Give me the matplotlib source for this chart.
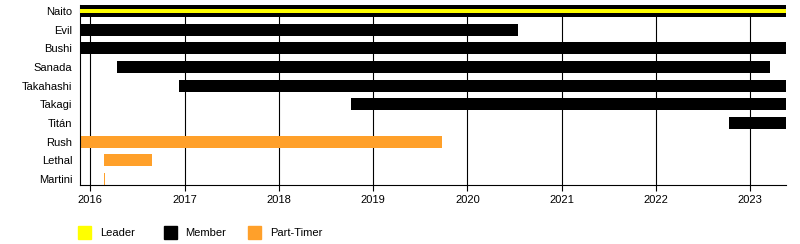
import matplotlib
matplotlib.use('Agg')
from matplotlib import pyplot as plt
from matplotlib.patches import Rectangle

plt.rcParams['font.family'] = ['Liberation Sans', 'DejaVu Sans']
plt.rcParams['font.size'] = 8

# wrestlers, top to bottom
names = ['Naito', 'Evil', 'Bushi', 'Sanada', 'Takahashi', 'Takagi', 'Titán', 'Rush', 'Lethal', 'Martini']
starts = [2015.89, 2015.89, 2015.89, 2016.28, 2016.94, 2018.77, 2022.77, 2015.89, 2016.14, 2016.14]
ends = [2023.38, 2020.54, 2023.38, 2023.21, 2023.38, 2023.38, 2023.38, 2019.73, 2016.65, 2016.155]
roles = ['Member', 'Member', 'Member', 'Member', 'Member', 'Member', 'Member',
         'Part-Timer', 'Part-Timer', 'Part-Timer']
# leader stint(s): (row, start, end)
leader = [(0, 2015.89, 2023.38)]
years = list(range(2016, 2024))

colors = {'Leader': '#ffff00', 'Member': '#000000', 'Part-Timer': '#ffa02a'}

fig = plt.figure(figsize=(8, 2.44), dpi=100)
ax = fig.add_axes([0.1, 0.2418, 0.8825, 0.738])

for y in years:
    ax.axvline(y, color='black', lw=0.8, zorder=0)

for i, (s, e, r) in enumerate(zip(starts, ends, roles)):
    ax.barh(i, e - s, left=s, height=0.64, color=colors[r], zorder=2)

for row, s, e in leader:
    ax.barh(row, e - s, left=s, height=0.22, color=colors['Leader'], zorder=3)

ax.set_xlim(2015.89, 2023.38)
ax.set_ylim(9.32, -0.33)
ax.set_yticks(range(len(names)))
ax.set_yticklabels(names)
ax.tick_params(axis='y', length=0, pad=5.5)
ax.set_xticks(years)
ax.tick_params(axis='x', length=4, width=0.8, pad=3)
for side in ['top', 'right']:
    ax.spines[side].set_visible(False)
for side in ['left', 'bottom']:
    ax.spines[side].set_linewidth(0.8)

# legend
legend_items = [('Leader', 78, 100), ('Member', 164, 185), ('Part-Timer', 248, 270)]
for label, bx, tx in legend_items:
    fig.patches.append(Rectangle((bx / 800, 1 - 239 / 244), 13 / 800, 13 / 244,
                                 transform=fig.transFigure, color=colors[label]))
    fig.text(tx / 800, 1 - 233 / 244, label, va='center', ha='left')

fig.savefig('out.png', dpi=100)
